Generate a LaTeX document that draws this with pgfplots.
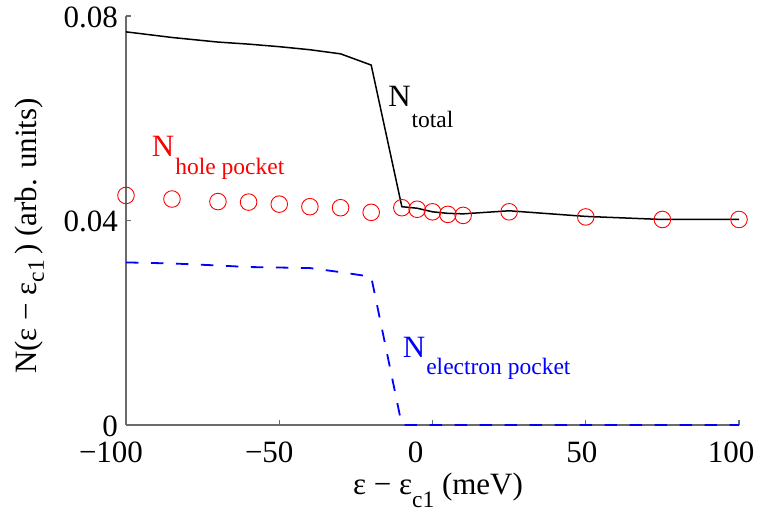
\documentclass[border=0pt]{standalone}
\usepackage{pgfplots}
\pgfplotsset{compat=1.18}
\usepackage{fontspec}
\setmainfont{Liberation Serif}
\newcommand{\subt}[2]{\raisebox{-#1}{\fontsize{23.5}{23.5}\selectfont #2}}
\newcommand{\shl}[2]{\makebox[0pt][c]{#2\kern#1}}
\begin{document}
\begin{tikzpicture}
\useasboundingbox (-126pt,-86pt) rectangle (631pt,425pt);
\begin{axis}[
  at={(0,0)}, anchor=south west,
  scale only axis, width=613pt, height=409pt,
  xmin=-100, xmax=100, ymin=0, ymax=0.08,
  clip=false,
  scaled y ticks=false, scaled x ticks=false,
  axis x line=bottom, axis y line=left,
  axis line style={-, draw=black!58, line width=1.1pt},
  tick style={draw=black!58, line width=1.1pt},
  tick align=inside, major tick length=5pt,
  xtick={-100,-50,0,50,100},
  xticklabels={{\shl{30pt}{−100}},{\shl{20pt}{−50}},{\shl{34pt}{0}},{\shl{8pt}{50}},{\shl{16pt}{100}}},
  ytick={0,0.04,0.08},
  yticklabels={0,0.04,0.08},
  xticklabel style={anchor=base, inner sep=0pt, yshift=-37pt},
  yticklabel style={anchor=east, inner sep=0pt, xshift=-8pt, yshift=-1pt},
  tick label style={font=\fontsize{31}{31}\selectfont},
  label style={font=\fontsize{31}{31}\selectfont},
  xlabel={ε − ε\subt{13pt}{c1} (meV)},
  xlabel style={at={(axis description cs:0.509,0)}, anchor=base, yshift=-69pt, inner sep=0pt},
  ylabel={N(ε − ε\subt{7pt}{c1}\,) (arb. units)},
  ylabel style={at={(axis description cs:-0.1452,0.462)}, anchor=base, inner sep=0pt},
]
\addplot[only marks, mark=o, mark size=8.3pt, draw=red, mark options={line width=0.9pt}] coordinates {
(-100,0.0449) (-85,0.0442) (-70,0.0437) (-60,0.0436) (-50,0.0432) (-40,0.0427) (-30,0.0425) (-20,0.0416)
(-10,0.0425) (-5,0.0422) (0,0.0417) (5,0.0412) (10,0.0410) (25,0.0417) (50,0.0407) (75,0.0402) (100,0.0402)};
\addplot[black, line width=1.5pt] coordinates {
(-100,0.0769) (-85,0.0758) (-70,0.0749) (-60,0.0745) (-50,0.0740) (-40,0.0734) (-30,0.0726) (-20,0.0704)
(-10,0.0427) (-5,0.0424) (0,0.0417) (5,0.0414) (10,0.0413) (25,0.0419) (50,0.0408) (75,0.0402) (100,0.0402)};
\addplot[blue, line width=1.8pt, dash pattern=on 12.5pt off 12.5pt] coordinates {
(-100,0.0318) (-85,0.0316) (-70,0.0312) (-60,0.0309) (-50,0.0308) (-40,0.0307) (-30,0.0299) (-20,0.0290)
(-10,0) (-5,0) (0,0) (5,0) (10,0) (25,0) (50,0) (75,0) (100,0)};
\node[anchor=base west, inner sep=0pt, font=\fontsize{31}{31}\selectfont] at (axis cs:-14.5,0.06226) {N\kern1pt\subt{21pt}{total}};
\node[anchor=base west, inner sep=0pt, font=\fontsize{31}{31}\selectfont, text=red] at (axis cs:-91.6,0.05248) {N\kern1pt\subt{18pt}{hole pocket}};
\node[anchor=base west, inner sep=0pt, font=\fontsize{31}{31}\selectfont, text=blue] at (axis cs:-9.72,0.01324) {N\kern1pt\subt{17pt}{electron pocket}};
\end{axis}
\end{tikzpicture}
\end{document}
